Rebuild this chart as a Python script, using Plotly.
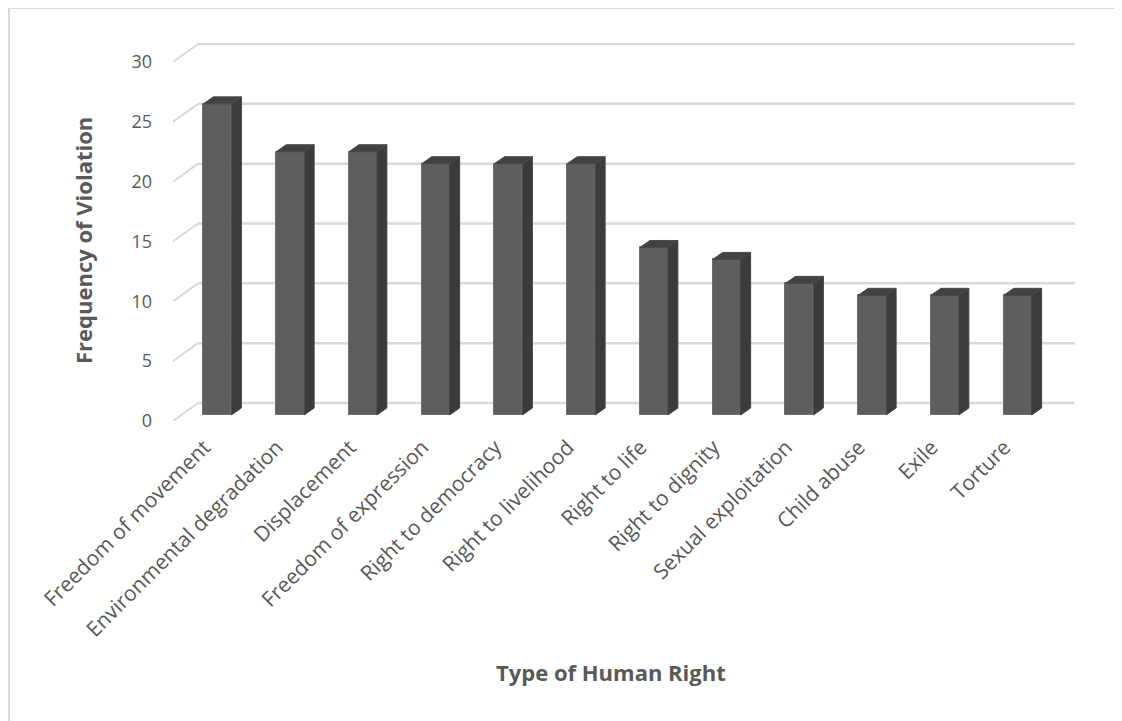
import plotly.graph_objects as go

categories = ["Freedom of movement", "Environmental degradation", "Displacement",
              "Freedom of expression", "Right to democracy", "Right to livelihood",
              "Right to life", "Right to dignity", "Sexual exploitation",
              "Child abuse", "Exile", "Torture"]
values = [26, 22, 22, 21, 21, 21, 14, 13, 11, 10, 10, 10]
y_ticks = [0, 5, 10, 15, 20, 25, 30]

# ---- geometry (page pixels; the page body has an 8px margin) ----
OFF = 8
W, H = 1122 - OFF, 721 - OFF
PL, PR, PT, PB = 173, 1075, 43, 421        # plot area in page px
L, T = PL - OFF, PT - OFF
R, B = W - (PR - OFF), H - (PB - OFF)
pw, ph = PR - PL, PB - PT
PX_X = 72.75          # px per category
PX_Y = 359 / 30       # px per unit
XMIN = -0.5
XMAX = XMIN + pw / PX_X
YMAX = ph / PX_Y

# 3D offsets in data units
wall_dx = 25 / PX_X
wall_dy = 18 / PX_Y
bar_shift_x = 8 / PX_X
bar_base = 6 / PX_Y
bar_w = 28 / PX_X
side_dx = 10 / PX_X
side_dy = 7 / PX_Y

FRONT = "#5e5e5e"
SIDE = "#3b3b3b"
TOP = "#424242"
GRID = "#d9d9d9"
TXT = "#595959"

fig = go.Figure()

# back-wall gridlines and left-wall connectors (below the bars)
for t in y_ticks:
    fig.add_shape(type="line", xref="x", yref="y", x0=XMIN, y0=t, x1=XMIN + wall_dx, y1=t + wall_dy,
                  line=dict(color=GRID, width=2), layer="below")
    fig.add_shape(type="line", xref="x", yref="y", x0=XMIN + wall_dx, y0=t + wall_dy, x1=XMAX, y1=t + wall_dy,
                  line=dict(color=GRID, width=2.5), layer="below")

# front faces
fig.add_trace(go.Bar(x=[i + bar_shift_x for i in range(len(values))], y=values,
                     base=bar_base, width=bar_w,
                     marker=dict(color=FRONT, line=dict(color="#6e6e6e", width=1)),
                     showlegend=False))

# side faces and top faces (computed from values)
sx, sy, tx, ty = [], [], [], []
for i, v in enumerate(values):
    xl = i + bar_shift_x - bar_w / 2
    xr = i + bar_shift_x + bar_w / 2
    top = bar_base + v
    sx += [xr, xr + side_dx, xr + side_dx, xr, xr, None]
    sy += [bar_base, bar_base + side_dy, top + side_dy, top, bar_base, None]
    tx += [xl, xl + side_dx, xr + side_dx, xr, xl, None]
    ty += [top, top + side_dy, top + side_dy, top, top, None]
fig.add_trace(go.Scatter(x=sx, y=sy, mode="lines", fill="toself", fillcolor=SIDE,
                         line=dict(color="#444444", width=1), hoverinfo="skip", showlegend=False))
fig.add_trace(go.Scatter(x=tx, y=ty, mode="lines", fill="toself", fillcolor=TOP,
                         line=dict(color="#4a4a4a", width=1), hoverinfo="skip", showlegend=False))

fig.update_layout(
    width=W, height=H,
    margin=dict(l=L, r=R, t=T, b=B),
    paper_bgcolor="white", plot_bgcolor="white",
    font=dict(family="Open Sans", color=TXT),
    xaxis=dict(range=[XMIN, XMAX], tickvals=[i - 0.07 for i in range(len(categories))],
               ticktext=categories, tickangle=-45, showgrid=False, zeroline=False,
               showline=False, ticks="", ticklabelstandoff=9,
               tickfont=dict(size=21, color=TXT)),
    yaxis=dict(range=[0, YMAX], tickvals=y_ticks, showgrid=False, zeroline=False,
               showline=False, ticks="", ticklabelstandoff=20,
               tickfont=dict(size=18, color=TXT)),
    bargap=0,
)

def px2paper(x, y):
    return (x - PL) / pw, (PB - y) / ph

ax, ay = px2paper(611, 672)
fig.add_annotation(text="<b>Type of Human Right</b>", x=ax, y=ay, xref="paper", yref="paper",
                   xanchor="center", yanchor="middle",
                   showarrow=False, font=dict(size=22, color=TXT, family="Open Sans"))
ax, ay = px2paper(83, 241)
fig.add_annotation(text="<b>Frequency of Violation</b>", x=ax, y=ay, xref="paper", yref="paper",
                   xanchor="center", yanchor="middle",
                   showarrow=False, textangle=-90, font=dict(size=22, color=TXT, family="Open Sans"))

x0, y0 = px2paper(OFF + 1, OFF)
x1, y1 = px2paper(1140, 740)
fig.add_shape(type="rect", xref="paper", yref="paper", x0=x0, y0=y1, x1=x1, y1=y0,
              line=dict(color=GRID, width=2), fillcolor="rgba(0,0,0,0)")

fig.write_html("out.html")
